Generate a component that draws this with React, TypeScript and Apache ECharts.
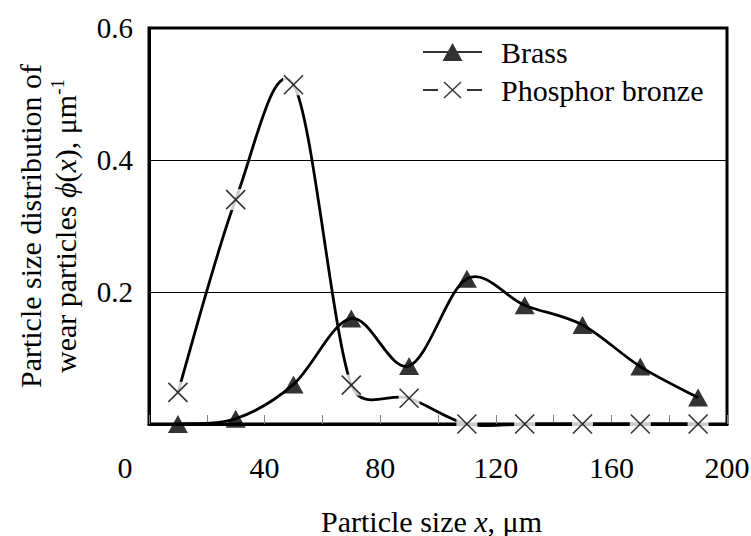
import React, { useEffect, useRef } from 'react';
import * as echarts from 'echarts';

// ---- data ----
const xValues = [10, 30, 50, 70, 90, 110, 130, 150, 170, 190];
const brassValues = [0, 0.008, 0.06, 0.16, 0.088, 0.22, 0.18, 0.15, 0.087, 0.04];
const phosphorValues = [0.048, 0.34, 0.514, 0.059, 0.039, 0, 0, 0, 0, 0];
const seriesNames = ['Brass', 'Phosphor bronze'];
const xAxisRange = [0, 200];
const xAxisStep = 40;
const yAxisRange = [0, 0.6];
const yAxisStep = 0.2;

const FONT = 'Liberation Serif';

const brassIcon = 'path://M0,9H59V11H0Z M19.5,19L29.5,1L39.5,19Z';
const phosphorIcon =
  'path://M0,9H15V11H0Z M44,9H59V11H44Z ' +
  'M20.5,2.55L21.5,1.45L38.5,17.45L37.5,18.55Z ' +
  'M21.5,18.55L20.5,17.45L37.5,1.45L38.5,2.55Z';
const xMarker = 'path://M0,0L19,19M19,0L0,19';

// Smoothed curve (Excel-style Bezier) drawn segment by segment through the data
function curveSeries(name: string, xs: number[], ys: number[], z: number) {
  return {
    name,
    type: 'custom',
    z,
    silent: true,
    encode: { x: 0, y: 1 },
    data: xs.slice(0, -1).map((x, i) => [x, ys[i]]),
    renderItem: (params: any, api: any) => {
      const i = params.dataIndex;
      const n = xs.length;
      const pt = (j: number) => {
        const k = Math.max(0, Math.min(n - 1, j));
        return api.coord([xs[k], ys[k]]);
      };
      const p0 = pt(i - 1);
      const p1 = pt(i);
      const p2 = pt(i + 1);
      const p3 = pt(i + 2);
      const f = 1 / 6;
      const d12 = Math.hypot(p2[0] - p1[0], p2[1] - p1[1]);
      const ctrl = (base: number[], a: number[], b: number[], sign: number) => {
        const vx = b[0] - a[0];
        const vy = b[1] - a[1];
        const len = Math.hypot(vx, vy);
        if (len === 0) return [base[0], base[1]];
        const off = Math.min(len * f, d12 / 2);
        return [base[0] + (sign * vx * off) / len, base[1] + (sign * vy * off) / len];
      };
      const c1 = ctrl(p1, p0, p2, 1);
      const c2 = ctrl(p2, p1, p3, -1);
      return {
        type: 'bezierCurve',
        shape: {
          x1: p1[0], y1: p1[1], x2: p2[0], y2: p2[1],
          cpx1: c1[0], cpy1: c1[1], cpx2: c2[0], cpy2: c2[1],
        },
        style: { stroke: '#000', lineWidth: 2.8, fill: 'none' },
      };
    },
  };
}

export default function App() {
  const ref = useRef<HTMLDivElement>(null);

  useEffect(() => {
    if (!ref.current) return;
    const chart = echarts.init(ref.current, null, { renderer: 'svg' });

    const brassData = xValues.map((x, i) => [x, brassValues[i]]);
    const phosData = xValues.map((x, i) => [x, phosphorValues[i]]);

    chart.setOption({
      animation: false,
      backgroundColor: '#fff',
      textStyle: { fontFamily: FONT, color: '#000' },
      grid: {
        left: 149,
        right: 24,
        top: 28,
        bottom: 112,
        containLabel: false,
        outerBoundsMode: 'none',
        show: true,
        borderColor: '#000',
        borderWidth: 3,
        backgroundColor: 'transparent',
      },
      legend: {
        left: 423,
        top: 37,
        padding: 0,
        orient: 'vertical',
        itemWidth: 59,
        itemHeight: 20,
        itemGap: 8,
        selectedMode: false,
        itemStyle: { color: '#000', borderWidth: 0 },
        textStyle: {
          fontFamily: FONT,
          fontSize: 30,
          color: '#000',
          lineHeight: 30,
          padding: [0, 0, 0, 14],
        },
        data: [
          { name: seriesNames[0], icon: brassIcon },
          { name: seriesNames[1], icon: phosphorIcon },
        ],
      },
      xAxis: {
        type: 'value',
        min: xAxisRange[0],
        max: xAxisRange[1],
        interval: xAxisStep,
        name: '{a|Particle size }{i|x}{b|, μm}',
        nameLocation: 'middle',
        nameGap: 82,
        nameTextStyle: {
          rich: {
            a: { fontFamily: FONT, fontSize: 30, color: '#000', lineHeight: 30 },
            i: { fontFamily: FONT, fontSize: 30, color: '#000', fontStyle: 'italic', lineHeight: 30 },
            b: { fontFamily: FONT, fontSize: 30, color: '#000', lineHeight: 30, padding: [0, 13, 0, 0] },
          },
        },
        axisLine: { show: true, lineStyle: { color: '#000', width: 3 } },
        axisTick: { show: true, inside: true, length: 9, lineStyle: { color: '#808080', width: 1 } },
        minorTick: { show: true, splitNumber: 2, length: 9, lineStyle: { color: '#808080', width: 1 } },
        splitLine: { show: false },
        minorSplitLine: { show: false },
        axisLabel: {
          margin: 28,
          fontFamily: FONT,
          fontSize: 30,
          color: '#000',
          formatter: (v: number) => (v === 0 ? '{z|0}' : String(v)),
          rich: {
            z: { fontFamily: FONT, fontSize: 30, color: '#000', padding: [0, 48, 0, 0] },
          },
        },
      },
      yAxis: {
        type: 'value',
        min: yAxisRange[0],
        max: yAxisRange[1],
        interval: yAxisStep,
        name:
          '{a|Particle size distribution of}\n{a|wear particles }{i|ϕ}{a|(}{i|x}{a|), μm}{s|-1}',
        nameLocation: 'middle',
        nameGap: 66,
        nameTextStyle: {
          align: 'center',
          rich: {
            a: { fontFamily: FONT, fontSize: 30, color: '#000', lineHeight: 35 },
            i: { fontFamily: FONT, fontSize: 30, color: '#000', fontStyle: 'italic', lineHeight: 35 },
            s: { fontFamily: FONT, fontSize: 19, color: '#000', lineHeight: 20, verticalAlign: 'top' },
          },
        },
        axisLine: { show: true, lineStyle: { color: '#000', width: 3 } },
        axisTick: { show: false },
        splitLine: { show: true, lineStyle: { color: '#000', width: 1 } },
        axisLabel: {
          margin: 16,
          fontFamily: FONT,
          fontSize: 29,
          color: '#000',
          formatter: (v: number) => (v === 0 ? '' : v.toFixed(1)),
        },
      },
      series: [
        curveSeries('Phosphor bronze curve', xValues, phosphorValues, 2),
        {
          name: 'Phosphor bronze mask',
          type: 'scatter',
          data: phosData,
          symbol: 'rect',
          symbolSize: 21,
          itemStyle: { color: '#fff', borderWidth: 0 },
          silent: true,
          z: 3,
        },
        curveSeries('Brass curve', xValues, brassValues, 4),
        {
          name: seriesNames[0],
          type: 'scatter',
          data: brassData,
          symbol: 'triangle',
          symbolSize: [20, 18],
          itemStyle: { color: '#000', borderWidth: 0 },
          silent: true,
          z: 5,
        },
        {
          name: seriesNames[1],
          type: 'scatter',
          data: phosData,
          symbol: xMarker,
          symbolSize: 19,
          itemStyle: { color: 'none', borderColor: '#000', borderWidth: 1.6 },
          silent: true,
          z: 6,
        },
      ],
    });

    return () => chart.dispose();
  }, []);

  return (
    <div
      ref={ref}
      style={{ position: 'absolute', left: 0, top: 0, width: 751, height: 536, background: '#fff' }}
    />
  );
}
